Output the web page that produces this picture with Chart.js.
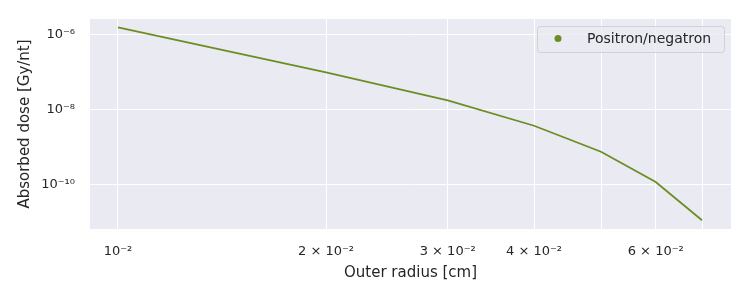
<!DOCTYPE html>
<html>
<head>
<meta charset="utf-8">
<script src="https://cdn.jsdelivr.net/npm/chart.js@4/dist/chart.umd.min.js"></script>
<style>
  html, body { margin: 0; padding: 0; background: #fff; }
  #wrap { width: 750px; height: 300px; }
</style>
</head>
<body>
<div id="wrap"><canvas id="myChart" width="750" height="300"></canvas></div>
<script>
// outer radius [cm]
var radius = [0.01, 0.02, 0.03, 0.04, 0.05, 0.06, 0.07];
// absorbed dose [Gy/nt]
var dose = [1.6e-6, 1.0e-7, 1.8e-8, 3.8e-9, 7.7e-10, 1.2e-10, 1.15e-11];

var xTicks = [0.01, 0.02, 0.03, 0.04, 0.05, 0.06, 0.07];
var xTickLabels = ['10⁻²', '2 × 10⁻²', '3 × 10⁻²', '4 × 10⁻²', '', '6 × 10⁻²', ''];
var yTicks = [1e-10, 1e-8, 1e-6];
var yTickLabels = ['10⁻¹⁰', '10⁻⁸', '10⁻⁶'];

var FONT = '"DejaVu Sans", sans-serif';
var textColor = '#262626';
var lineColor = '#6b8e23';

// seaborn-like grey plot background
var plotBg = {
    id: 'plotBg',
    beforeDraw: function(chart) {
        var a = chart.chartArea, c = chart.ctx;
        c.save();
        c.fillStyle = '#eaeaf2';
        c.fillRect(a.left, a.top, a.right - a.left, a.bottom - a.top);
        c.restore();
    }
};

// matplotlib style legend box in the upper right corner
var boxLegend = {
    id: 'boxLegend',
    afterDraw: function(chart) {
        var c = chart.ctx, a = chart.chartArea;
        var ds = chart.data.datasets[0];
        var x = a.right - 7 - 187, y = a.top + 7, w = 187, h = 26;
        c.save();
        c.beginPath();
        c.roundRect(x + 0.5, y + 0.5, w, h, 3);
        c.fillStyle = 'rgba(234,234,242,0.8)';
        c.fill();
        c.strokeStyle = '#d0d0d6';
        c.lineWidth = 1;
        c.stroke();
        c.beginPath();
        c.arc(x + 21, y + 12.5, 3.5, 0, Math.PI * 2);
        c.fillStyle = ds.borderColor;
        c.fill();
        c.fillStyle = textColor;
        c.font = '14px ' + FONT;
        c.textBaseline = 'middle';
        c.fillText(ds.label, x + 50, y + 13);
        c.restore();
    }
};

var ctx = document.getElementById('myChart').getContext('2d');
var chart = new Chart(ctx, {
    type: 'line',
    data: {
        datasets: [{
            label: 'Positron/negatron',
            data: radius.map(function(r, i) { return {x: r, y: dose[i]}; }),
            borderColor: lineColor,
            backgroundColor: lineColor,
            borderWidth: 1.8,
            pointRadius: 0,
            fill: false,
            tension: 0
        }]
    },
    options: {
        responsive: false,
        animation: false,
        layout: { padding: { top: 19, right: 19, bottom: 0, left: 0 } },
        plugins: {
            legend: { display: false },
            tooltip: { enabled: false }
        },
        scales: {
            x: {
                type: 'logarithmic',
                min: 0.00911,
                max: 0.0771,
                afterBuildTicks: function(s) { s.ticks = xTicks.map(function(v) { return {value: v}; }); },
                afterFit: function(s) { s.height = 71; s.paddingLeft = 0; s.paddingRight = 0; },
                grid: { color: '#ffffff', lineWidth: 1, drawTicks: false },
                border: { display: false },
                ticks: {
                    autoSkip: false,
                    maxRotation: 0,
                    padding: 15,
                    color: textColor,
                    font: { family: FONT, size: 13 },
                    callback: function(v, i) { return xTickLabels[i]; }
                },
                title: {
                    display: true,
                    text: 'Outer radius [cm]',
                    color: textColor,
                    font: { family: FONT, size: 15 },
                    padding: { top: 0, bottom: 18 }
                }
            },
            y: {
                type: 'logarithmic',
                min: 6.7e-12,
                max: 2.67e-6,
                afterBuildTicks: function(s) { s.ticks = yTicks.map(function(v) { return {value: v}; }); },
                afterFit: function(s) { s.width = 90; s.paddingTop = 0; s.paddingBottom = 0; },
                grid: { color: '#ffffff', lineWidth: 1, drawTicks: false },
                border: { display: false },
                ticks: {
                    autoSkip: false,
                    padding: 15,
                    color: textColor,
                    font: { family: FONT, size: 13 },
                    callback: function(v, i) { return yTickLabels[i]; }
                },
                title: {
                    display: true,
                    text: 'Absorbed dose [Gy/nt]',
                    color: textColor,
                    font: { family: FONT, size: 15 },
                    padding: { top: 16, bottom: 0 }
                }
            }
        }
    },
    plugins: [plotBg, boxLegend]
});
</script>
</body>
</html>
